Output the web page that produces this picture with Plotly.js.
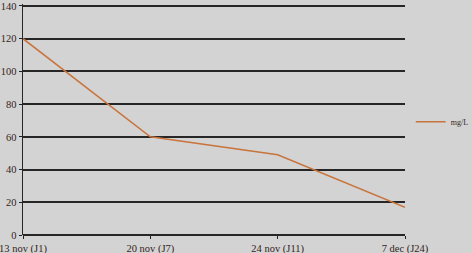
<!DOCTYPE html>
<html>
<head>
<meta charset="utf-8">
<script src="https://cdn.plot.ly/plotly-3.0.1.min.js"></script>
<style>html,body{margin:0;padding:0;background:#d3d3d3;}#chart{width:472px;height:253px;}</style>
</head>
<body>
<div id="chart"></div>
<script>
var categories = ["13 nov (J1)", "20 nov (J7)", "24 nov (J11)", "7 dec (J24)"];
var values = [120, 60, 49, 17];
var yTicks = [0, 20, 40, 60, 80, 100, 120, 140];
var seriesName = "mg/L";

var trace = {
  x: categories,
  y: values,
  type: "scatter",
  mode: "lines",
  name: seriesName,
  line: {color: "#c8743c", width: 1.5}
};

var layout = {
  width: 472,
  height: 253,
  margin: {l: 23, r: 67, t: 4, b: 18, autoexpand: false},
  paper_bgcolor: "#d3d3d3",
  plot_bgcolor: "#d3d3d3",
  font: {family: "Liberation Serif, serif", size: 10.5, color: "#33241a"},
  showlegend: true,
  legend: {x: 1.015, y: 0.49, xanchor: "left", yanchor: "middle", itemwidth: 30, bgcolor: "rgba(0,0,0,0)", font: {size: 8, color: "#33241a"}},
  xaxis: {
    type: "category",
    range: [0, 3],
    showgrid: false,
    zeroline: false,
    showline: false,
    ticks: "outside",
    ticklen: 3,
    tickcolor: "#222",
    tickfont: {size: 10.5}
  },
  yaxis: {
    range: [0, 141.2],
    tickvals: yTicks,
    showgrid: true,
    gridcolor: "#262626",
    gridwidth: 2,
    zeroline: true,
    zerolinecolor: "#262626",
    zerolinewidth: 2,
    showline: true,
    linecolor: "#262626",
    linewidth: 1.5,
    ticks: "outside",
    ticklen: 3,
    tickcolor: "#222",
    tickfont: {size: 10.5}
  }
};

Plotly.newPlot("chart", [trace], layout, {displayModeBar: false, staticPlot: true});
</script>
</body>
</html>
